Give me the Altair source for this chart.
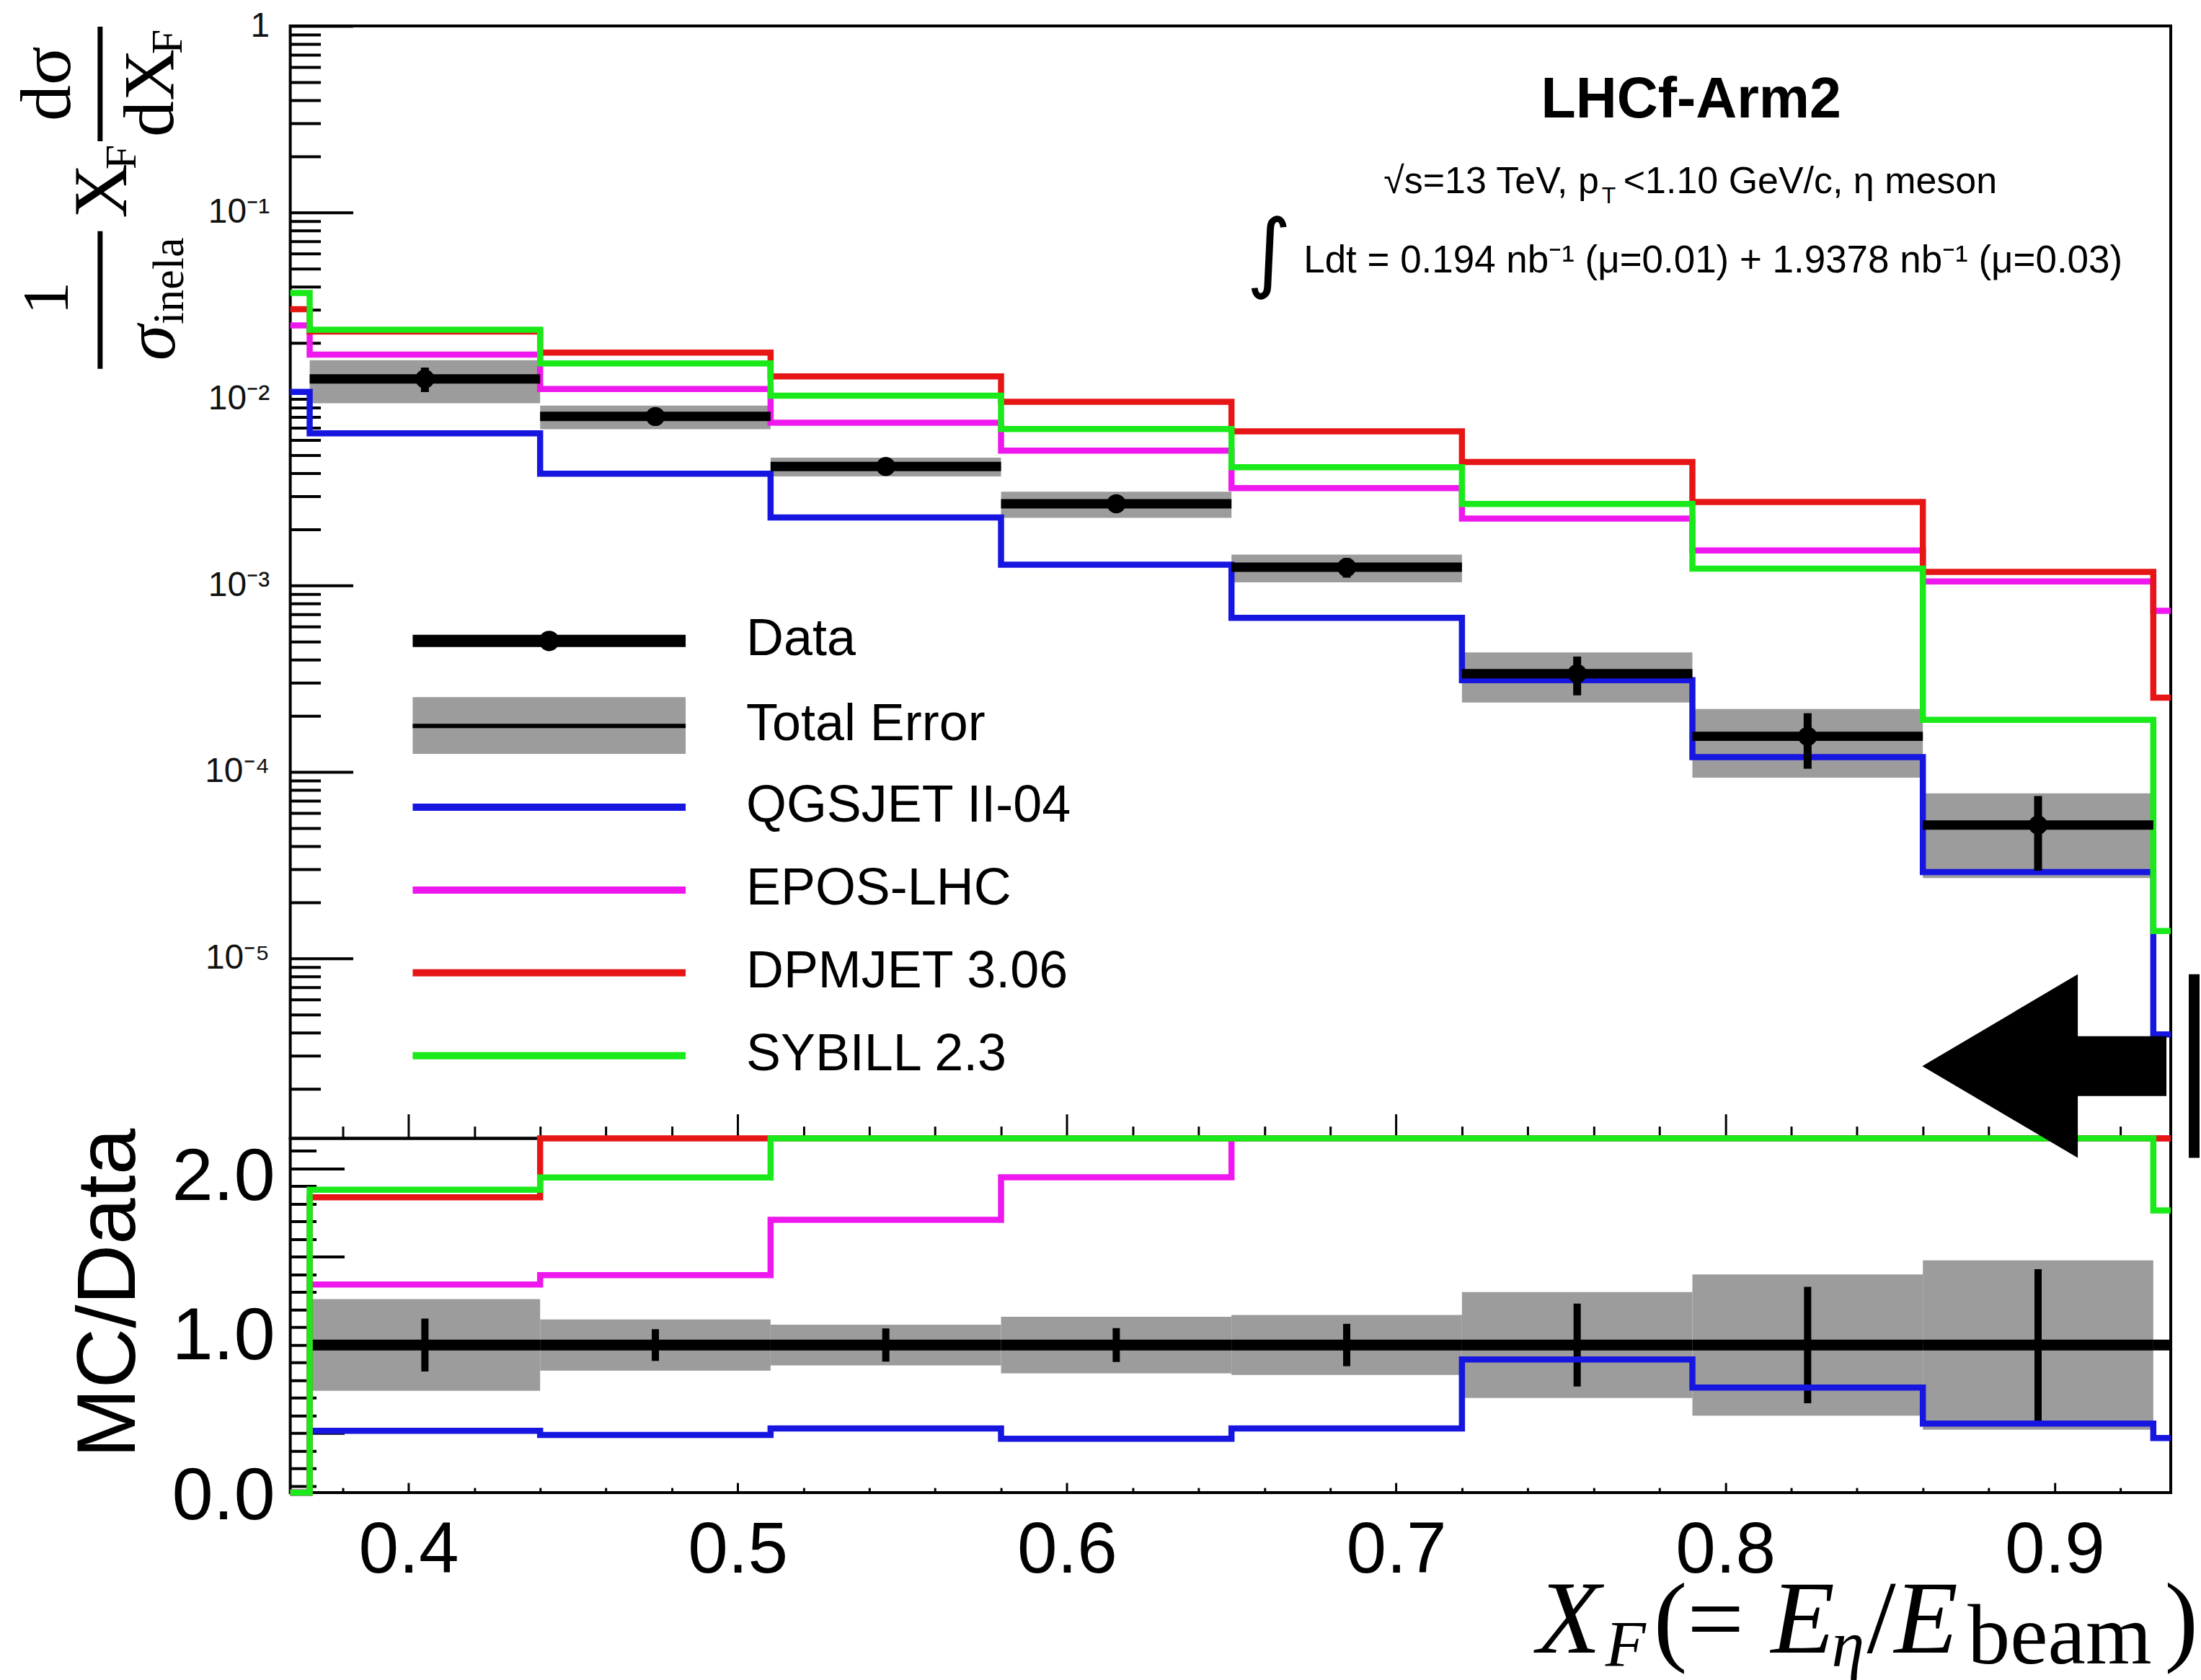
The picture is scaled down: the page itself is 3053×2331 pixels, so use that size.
import altair as alt
import pandas as pd

# ------------------------------------------------------------------
# Values
# ------------------------------------------------------------------
BIN_EDGES = [0.37, 0.44, 0.51, 0.58, 0.65, 0.72, 0.79, 0.86, 0.93]
X_RANGE = [0.3641, 0.9353]
TOP_Y_RANGE = [1.08e-6, 1.0]
RATIO_Y_RANGE = [0.163, 2.171]

# measured data (top panel) and relative uncertainties
DATA = [1.28e-2, 8.05e-3, 4.34e-3, 2.74e-3, 1.25e-3, 3.36e-4, 1.55e-4, 5.18e-5]
STAT_REL = [0.15, 0.09, 0.094, 0.096, 0.12, 0.235, 0.33, 0.43]
TOTAL_REL = [0.26, 0.145, 0.115, 0.16, 0.17, 0.30, 0.40, 0.48]

MODELS = ["QGSJET II-04", "EPOS-LHC", "DPMJET 3.06", "SYBILL 2.3"]
MODEL_COLORS = ["#1616e0", "#ee18ee", "#e61616", "#1aea1a"]

# model predictions: [bin below 0.37 (partly visible), 8 bins, bin above 0.93]
QGSJET = [1.09e-2, 6.53e-3, 3.97e-3, 2.31e-3, 1.29e-3, 6.70e-4, 3.10e-4, 1.20e-4, 2.90e-5, 3.9e-6]
EPOS = [2.48e-2, 1.73e-2, 1.13e-2, 7.46e-3, 5.28e-3, 3.32e-3, 2.28e-3, 1.54e-3, 1.05e-3, 7.3e-4]
DPMJET = [3.03e-2, 2.30e-2, 1.77e-2, 1.32e-2, 9.65e-3, 6.70e-3, 4.59e-3, 2.80e-3, 1.18e-3, 2.5e-4]
SYBILL = [3.70e-2, 2.35e-2, 1.55e-2, 1.04e-2, 6.90e-3, 4.30e-3, 2.73e-3, 1.23e-3, 1.90e-4, 1.40e-5]

# ratio panel (MC/Data): 8 bins + bin above 0.93 for data
RATIO_DATA = [1.0, 1.0, 1.0, 1.0, 1.0, 1.0, 1.0, 1.0, 1.0]
RATIO_QGSJET = [0.0, 0.514, 0.490, 0.527, 0.469, 0.527, 0.918, 0.759, 0.555, 0.473]
RATIO_EPOS = [0.0, 1.343, 1.396, 1.710, 1.951, 2.66, 6.8, 9.9, 20.0, 90.0]
RATIO_DPMJET = [0.0, 1.837, 2.20, 3.04, 3.52, 5.36, 13.7, 18.1, 22.8, 30.0]
RATIO_SYBILL = [0.0, 1.880, 1.950, 2.40, 2.52, 3.44, 8.1, 7.9, 3.67, 1.763]

X_TICK_LABELS = [0.4, 0.5, 0.6, 0.7, 0.8, 0.9]
TOP_Y_LABELS = [1.0, 1e-1, 1e-2, 1e-3, 1e-4, 1e-5]
RATIO_LABELS = ["2.0", "1.0", "0.0"]
LEGEND_LABELS = ["Data", "Total Error"] + MODELS

# ------------------------------------------------------------------
# Layout / style
# ------------------------------------------------------------------
W, H_TOP, H_RAT = 2611, 1545, 492
SANS, SERIF = "Liberation Sans", "Liberation Serif"
BOX_GRAY = "#9c9c9c"
ONE = pd.DataFrame({"k": [0]})

xsc = alt.Scale(domain=X_RANGE, nice=False, zero=False)
ysc_top = alt.Scale(type="log", domain=TOP_Y_RANGE, nice=False)
ysc_rat = alt.Scale(domain=RATIO_Y_RANGE, nice=False, zero=False, clamp=True)

X_MINOR = [round(0.38 + 0.02 * i, 2) for i in range(28)]
TOP_Y_MINOR = [m * 10.0 ** e for e in range(-6, 0) for m in range(1, 10)] + [1.0]
TOP_Y_MINOR = [v for v in TOP_Y_MINOR if TOP_Y_RANGE[0] <= v <= TOP_Y_RANGE[1]]
RAT_Y_MINOR = [round(0.2 + 0.1 * i, 1) for i in range(20)]


def cond(test, big, small):
    return {"condition": {"test": test, "value": big}, "value": small}


MAJ_X = "abs(datum.value*10 - round(datum.value*10)) < 0.001"
MAJ_LOG = "abs(log(datum.value)/LN10 - round(log(datum.value)/LN10)) < 0.01"
MAJ_HALF = "abs(datum.value*2 - round(datum.value*2)) < 0.01"

ax_top_x = alt.Axis(orient="top", offset=-H_TOP, values=X_MINOR, labels=False, domain=False,
                    grid=False, title=None, tickSize=cond(MAJ_X, 34, 17), tickWidth=3,
                    tickColor="black")
ax_top_ylab = alt.Axis(orient="left", values=TOP_Y_LABELS, ticks=False, tickSize=0, domain=False,
                       grid=False, title=None, labelFont=SANS, labelFontSize=48, labelPadding=29,
                       labelColor="#111111", labelOverlap=False,
                       labelExpr="datum.value >= 0.99 ? '1' : '10' + ['\u2070','\u207b\u00b9','\u207b\u00b2','\u207b\u00b3','\u207b\u2074','\u207b\u2075','\u207b\u2076'][round(-log(datum.value)/LN10)]")
ax_top_ytick = alt.Axis(orient="right", offset=-W, values=TOP_Y_MINOR, labels=False, domain=False,
                        grid=False, title=None, tickSize=cond(MAJ_LOG, 87, 42), tickWidth=4,
                        tickColor="black")
ax_rat_xlab = alt.Axis(orient="bottom", values=X_TICK_LABELS, ticks=False, tickSize=0, domain=False,
                       grid=False, title=None, labelFont=SANS, labelFontSize=100, labelPadding=31,
                       labelColor="black", format=".1f", labelFlush=False, labelOverlap=False)
ax_rat_xtick = alt.Axis(orient="top", offset=-H_RAT, values=X_MINOR, labels=False, domain=False,
                        grid=False, title=None, tickSize=cond(MAJ_X, 14, 7), tickWidth=3,
                        tickColor="black")
ax_rat_ytick = alt.Axis(orient="right", offset=-W, values=RAT_Y_MINOR, labels=False, domain=False,
                        grid=False, title=None, tickSize=cond(MAJ_HALF, 75, 36), tickWidth=4,
                        tickColor="black")

# ------------------------------------------------------------------
# Tables built from the arrays
# ------------------------------------------------------------------
bins = pd.DataFrame({"lo": BIN_EDGES[:-1], "hi": BIN_EDGES[1:], "v": DATA,
                     "s": STAT_REL, "t": TOTAL_REL})
bins["c"] = (bins["lo"] + bins["hi"]) / 2
bins["t_lo"] = bins["v"] * (1 - bins["t"])
bins["t_hi"] = bins["v"] * (1 + bins["t"])
bins["s_lo"] = bins["v"] * (1 - bins["s"])
bins["s_hi"] = bins["v"] * (1 + bins["s"])
bins["r"] = RATIO_DATA[:8]
bins["rt_lo"] = bins["r"] - bins["t"]
bins["rt_hi"] = bins["r"] + bins["t"]
bins["rs_lo"] = bins["r"] - bins["s"]
bins["rs_hi"] = bins["r"] + bins["s"]

ratio_line = pd.DataFrame({"lo": BIN_EDGES, "hi": BIN_EDGES[1:] + [X_RANGE[1]], "r": RATIO_DATA})

STEP_X = [X_RANGE[0]] + BIN_EDGES + [X_RANGE[1]]


def step_frame(vals):
    return pd.DataFrame({"x": STEP_X, "y": list(vals) + [vals[-1]]})


def mc_layer(vals, color, ysc, xaxis=None, yaxis=None):
    return alt.Chart(step_frame(vals)).mark_line(
        interpolate="step-after", color=color, strokeWidth=8.5
    ).encode(x=alt.X("x:Q", scale=xsc, axis=xaxis), y=alt.Y("y:Q", scale=ysc, axis=yaxis))


def label(s, x, y, size, font=SANS, align="center", baseline="middle", angle=0,
          weight="normal", style="normal"):
    return alt.Chart(ONE).mark_text(
        text=s, font=font, fontSize=size, align=align, baseline=baseline, angle=angle,
        fontWeight=weight, fontStyle=style, color="black"
    ).encode(x=alt.value(x), y=alt.value(y))


def hline(x1, x2, y, width, color="black"):
    return alt.Chart(ONE).mark_rule(color=color, strokeWidth=width).encode(
        x=alt.value(x1), x2=alt.value(x2), y=alt.value(y))


def vline(x, y1, y2, width, color="black"):
    return alt.Chart(ONE).mark_rule(color=color, strokeWidth=width).encode(
        x=alt.value(x), y=alt.value(y1), y2=alt.value(y2))


# ------------------------------------------------------------------
# Top panel
# ------------------------------------------------------------------
top_layers = []
top_layers.append(alt.Chart(bins).mark_rect(color=BOX_GRAY).encode(
    x=alt.X("lo:Q", scale=xsc, axis=ax_top_x), x2="hi:Q",
    y=alt.Y("t_lo:Q", scale=ysc_top, axis=ax_top_ylab), y2="t_hi:Q"))
for i, (vals, col) in enumerate(zip([QGSJET, EPOS, DPMJET, SYBILL], MODEL_COLORS)):
    top_layers.append(mc_layer(vals, col, ysc_top, yaxis=ax_top_ytick if i == 0 else None))
top_layers.append(alt.Chart(bins).mark_rule(color="black", strokeWidth=13).encode(
    x=alt.X("lo:Q", scale=xsc, axis=None), x2="hi:Q",
    y=alt.Y("v:Q", scale=ysc_top, axis=None)))
top_layers.append(alt.Chart(bins).mark_rule(color="black", strokeWidth=11).encode(
    x=alt.X("c:Q", scale=xsc, axis=None),
    y=alt.Y("s_lo:Q", scale=ysc_top, axis=None), y2="s_hi:Q"))
top_layers.append(alt.Chart(bins).mark_point(filled=True, size=700, color="black", opacity=1).encode(
    x=alt.X("c:Q", scale=xsc, axis=None), y=alt.Y("v:Q", scale=ysc_top, axis=None)))

# legend
LEG_X1, LEG_X2, LEG_TX = 170, 549, 633
LEG_ROWS = [854, 972, 1085, 1200, 1315, 1430]
top_layers.append(alt.Chart(ONE).mark_rect(color=BOX_GRAY).encode(
    x=alt.value(LEG_X1), x2=alt.value(LEG_X2), y=alt.value(932), y2=alt.value(1011)))
top_layers.append(hline(LEG_X1, LEG_X2, LEG_ROWS[1], 6))
top_layers.append(hline(LEG_X1, LEG_X2, LEG_ROWS[0], 17))
top_layers.append(alt.Chart(ONE).mark_point(filled=True, size=800, color="black", opacity=1).encode(
    x=alt.value((LEG_X1 + LEG_X2) / 2), y=alt.value(LEG_ROWS[0])))
for i, col in enumerate(MODEL_COLORS):
    top_layers.append(hline(LEG_X1, LEG_X2, LEG_ROWS[i + 2], 10, col))
for i, lab in enumerate(LEGEND_LABELS):
    top_layers.append(label(lab, LEG_TX, LEG_ROWS[i] - 2, 72, align="left"))

# experiment / condition text
top_layers.append(label("LHCf-Arm2", 1945, 127, 79, weight="bold", baseline="alphabetic"))
top_layers.append(label("\u221as=13 TeV, p", 1817, 232, 52, align="right", baseline="alphabetic"))
top_layers.append(label("T", 1821, 246, 32, align="left", baseline="alphabetic"))
top_layers.append(label("<1.10 GeV/c, \u03b7 meson", 1851, 232, 52, align="left", baseline="alphabetic"))
top_layers.append(label("\u222b", 1359, 318, 120, font="DejaVu Sans"))
top_layers.append(label("Ldt = 0.194 nb\u207b\u00b9 (\u03bc=0.01) + 1.9378 nb\u207b\u00b9 (\u03bc=0.03)",
                        1407, 342, 53, align="left", baseline="alphabetic"))

# rotated y title: 1/sigma_inela X_F dsigma/dX_F
top_layers.append(label("1", -337, 378, 92, font=SERIF, angle=270))
top_layers.append(vline(-264, 285, 476, 7))
top_layers.append(label("\u03c3", -191, 440, 100, font=SERIF, angle=270, style="italic"))
top_layers.append(label("inela", -168, 354, 62, font=SERIF, angle=270))
top_layers.append(label("X", -260, 229, 105, font=SERIF, angle=270))
top_layers.append(label("F", -234, 182, 62, font=SERIF, angle=270))
top_layers.append(vline(-264, 1, 160, 7))
top_layers.append(label("d\u03c3", -336, 80, 100, font=SERIF, angle=270))
top_layers.append(label("dX", -193, 93, 100, font=SERIF, angle=270))
top_layers.append(label("F", -170, 22, 62, font=SERIF, angle=270))

# invisible anchor fixing the top-left corner of the page
top_layers.append(alt.Chart(ONE).mark_point(filled=True, size=1, opacity=0).encode(
    x=alt.value(-400.5), y=alt.value(-32.5)))

top = alt.layer(*top_layers).resolve_axis(x="independent", y="independent").properties(
    width=W, height=H_TOP)

# ------------------------------------------------------------------
# Ratio panel
# ------------------------------------------------------------------
rat_layers = []
rat_layers.append(alt.Chart(bins).mark_rect(color=BOX_GRAY).encode(
    x=alt.X("lo:Q", scale=xsc, axis=ax_rat_xlab), x2="hi:Q",
    y=alt.Y("rt_lo:Q", scale=ysc_rat, axis=None), y2="rt_hi:Q"))
rat_layers.append(alt.Chart(ratio_line).mark_rule(color="black", strokeWidth=15).encode(
    x=alt.X("lo:Q", scale=xsc, axis=None), x2="hi:Q",
    y=alt.Y("r:Q", scale=ysc_rat, axis=None)))
rat_layers.append(alt.Chart(bins).mark_rule(color="black", strokeWidth=10).encode(
    x=alt.X("c:Q", scale=xsc, axis=None),
    y=alt.Y("rs_lo:Q", scale=ysc_rat, axis=None), y2="rs_hi:Q"))
for i, (vals, col) in enumerate(zip([RATIO_QGSJET, RATIO_EPOS, RATIO_DPMJET, RATIO_SYBILL],
                                    MODEL_COLORS)):
    rat_layers.append(mc_layer(vals, col, ysc_rat,
                               xaxis=ax_rat_xtick if i == 0 else None,
                               yaxis=ax_rat_ytick if i == 0 else None))

rat_layers.append(label("MC/Data", -251, 215, 116, angle=270))
for s, yy in zip(RATIO_LABELS, [54, 276, 498]):
    rat_layers.append(label(s, -21, yy, 103, align="right"))

# x title  X_F ( = E_eta / E_beam )
rat_layers.append(label("X", 1731, 714, 145, font=SERIF, style="italic", align="left", baseline="alphabetic"))
rat_layers.append(label("F", 1826, 733, 92, font=SERIF, style="italic", align="left", baseline="alphabetic"))
rat_layers.append(label("(=", 1893, 714, 140, font=SERIF, align="left", baseline="alphabetic"))
rat_layers.append(label("E", 2056, 714, 145, font=SERIF, style="italic", align="left", baseline="alphabetic"))
rat_layers.append(label("\u03b7", 2140, 733, 92, font=SERIF, style="italic", align="left", baseline="alphabetic"))
rat_layers.append(label("/", 2189, 714, 145, font=SERIF, align="left", baseline="alphabetic"))
rat_layers.append(label("E", 2227, 714, 145, font=SERIF, style="italic", align="left", baseline="alphabetic"))
rat_layers.append(label("beam", 2329, 729, 118, font=SERIF, align="left", baseline="alphabetic"))
rat_layers.append(label(")", 2649, 714, 140, font=SERIF, align="right", baseline="alphabetic"))

# big black arrow annotation
ARROW_PATH = ("M -1 0 L 0.274 -0.752 L 0.274 -0.245 L 1 -0.245 L 1 0.245 "
              "L 0.274 0.245 L 0.274 0.752 Z")
rat_layers.append(alt.Chart(ONE).mark_point(
    shape=ARROW_PATH, filled=True, size=339 * 339, color="black", opacity=1
).encode(x=alt.value(2435.5), y=alt.value(-100.5)))
rat_layers.append(alt.Chart(ONE).mark_rect(color="black").encode(
    x=alt.value(2636), x2=alt.value(2651), y=alt.value(-228), y2=alt.value(27)))

ratio = alt.layer(*rat_layers).resolve_axis(x="independent", y="independent").properties(
    width=W, height=H_RAT)

chart = alt.vconcat(top, ratio, spacing=0, bounds="flush").properties(
    padding=0, background="white"
).configure_view(stroke="black", strokeWidth=4)

chart.save("out.html", embed_options={"renderer": "svg", "actions": False})
